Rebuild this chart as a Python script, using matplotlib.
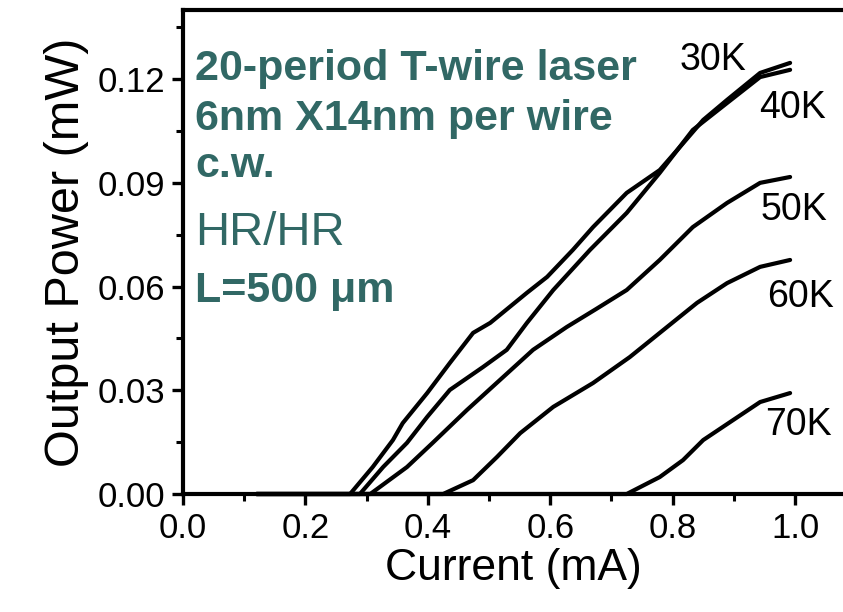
import matplotlib
matplotlib.use("Agg")
import matplotlib.pyplot as plt
from matplotlib.ticker import MultipleLocator, FormatStrFormatter

plt.rcParams['font.family'] = ['Liberation Sans', 'DejaVu Sans']

# L-I curves (current in mA, output power in mW)
current_30k = [0.12, 0.273, 0.310, 0.343, 0.359, 0.399, 0.436, 0.474, 0.502, 0.562, 0.595,
               0.637, 0.670, 0.725, 0.779, 0.812, 0.850, 0.889, 0.943, 0.992]
power_30k = [0, 0, 0.0078, 0.0156, 0.0205, 0.0292, 0.0379, 0.0466, 0.0495, 0.0582, 0.0628,
             0.0706, 0.0772, 0.0871, 0.0937, 0.1004, 0.1082, 0.1140, 0.1218, 0.1247]

current_40k = [0.12, 0.289, 0.327, 0.366, 0.399, 0.436, 0.490, 0.529, 0.562, 0.605, 0.665,
               0.725, 0.779, 0.833, 0.889, 0.943, 0.992]
power_40k = [0, 0, 0.0078, 0.0148, 0.0223, 0.0301, 0.0367, 0.0417, 0.0495, 0.0590, 0.0706,
             0.0813, 0.0929, 0.1053, 0.1131, 0.1206, 0.1227]

current_50k = [0.12, 0.306, 0.366, 0.408, 0.464, 0.518, 0.572, 0.627, 0.675, 0.725, 0.779,
               0.833, 0.889, 0.943, 0.992]
power_50k = [0, 0, 0.0078, 0.0148, 0.0243, 0.0330, 0.0417, 0.0483, 0.0535, 0.0590, 0.0677,
             0.0772, 0.0842, 0.0900, 0.0917]

current_60k = [0.12, 0.425, 0.474, 0.513, 0.551, 0.605, 0.670, 0.730, 0.779, 0.840, 0.889,
               0.943, 0.992]
power_60k = [0, 0, 0.0040, 0.0107, 0.0176, 0.0252, 0.0321, 0.0396, 0.0466, 0.0553, 0.0610,
             0.0657, 0.0677]

current_70k = [0.12, 0.725, 0.779, 0.817, 0.850, 0.899, 0.943, 0.992]
power_70k = [0, 0, 0.0049, 0.0098, 0.0156, 0.0214, 0.0266, 0.0292]

curves = [
    (current_30k, power_30k),
    (current_40k, power_40k),
    (current_50k, power_50k),
    (current_60k, power_60k),
    (current_70k, power_70k),
]

temp_labels = ["30K", "40K", "50K", "60K", "70K"]
label_x = [0.812, 0.941, 0.944, 0.954, 0.951]
label_y = [0.1227, 0.1088, 0.0793, 0.0541, 0.0171]

info_lines = ["20-period T-wire laser", "6nm X14nm per wire", "c.w.", "HR/HR", "L=500 \u03bcm"]
info_y = [0.1198, 0.1053, 0.0917, 0.0720, 0.0555]
info_weight = ["bold", "bold", "bold", "normal", "bold"]
info_size = [31, 31, 31, 34, 31]
teal = "#316865"

fig = plt.figure(figsize=(8.43, 6.12), dpi=100)
ax = fig.add_axes([183 / 843, 118 / 612, 660 / 843, 484 / 612])

for xs, ys in curves:
    ax.plot(xs, ys, color="black", lw=3.0, solid_capstyle="round",
            solid_joinstyle="round", clip_on=False)

for txt, lx, ly in zip(temp_labels, label_x, label_y):
    ax.text(lx, ly, txt, fontsize=27, color="black", va="baseline", ha="left")

for txt, ty, w, s in zip(info_lines, info_y, info_weight, info_size):
    ax.text(0.0196, ty, txt, fontsize=s, fontweight=w, color=teal, va="baseline", ha="left")

ax.set_xlim(0, 660 / 612)
ax.set_ylim(0, 0.14)
ax.xaxis.set_major_locator(MultipleLocator(0.2))
ax.xaxis.set_minor_locator(MultipleLocator(0.1))
ax.yaxis.set_major_locator(MultipleLocator(0.03))
ax.yaxis.set_minor_locator(MultipleLocator(0.015))
ax.xaxis.set_major_formatter(FormatStrFormatter("%.1f"))
ax.yaxis.set_major_formatter(FormatStrFormatter("%.2f"))

ax.spines["right"].set_visible(False)
for sp in ["left", "top", "bottom"]:
    ax.spines[sp].set_linewidth(3.0)

ax.tick_params(which="major", direction="out", length=8, width=2.4, labelsize=25, pad=5)
ax.tick_params(which="minor", direction="out", length=5, width=2.2)

ax.set_xlabel("Current (mA)", fontsize=32, labelpad=2)
ax.set_ylabel("Output Power (mW)", fontsize=35, labelpad=6)

fig.savefig("out.png", dpi=100)
